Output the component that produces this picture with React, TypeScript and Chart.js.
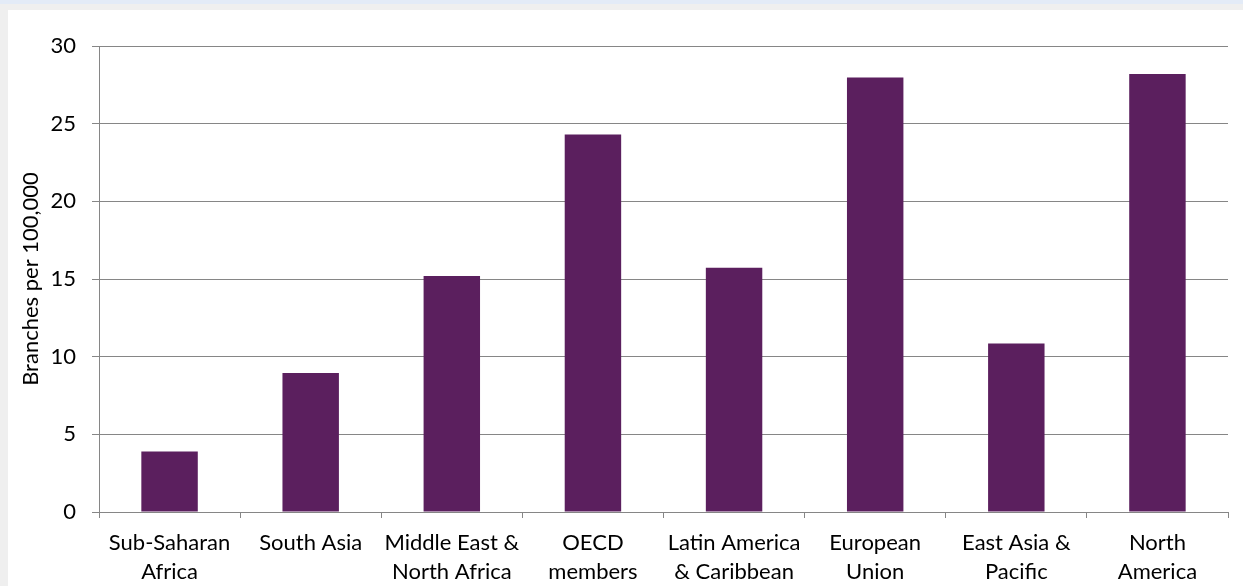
import React, { useEffect, useRef } from "react";
import { Chart, registerables } from "chart.js";

Chart.register(...registerables);

const categories: string[][] = [
  ["Sub-Saharan", "Africa"],
  ["South Asia"],
  ["Middle East &", "North Africa"],
  ["OECD", "members"],
  ["Latin America", "& Caribbean"],
  ["European", "Union"],
  ["East Asia &", "Pacific"],
  ["North", "America"],
];
const branches: number[] = [3.9, 8.95, 15.2, 24.3, 15.73, 27.98, 10.85, 28.2];
const yTitle = "Branches per 100,000";

const FONT = "Lato, 'Noto Sans', sans-serif";
const GRID = "#868686";

export default function App() {
  const ref = useRef<HTMLCanvasElement | null>(null);
  useEffect(() => {
    if (!ref.current) return;
    const chart = new Chart(ref.current, {
      type: "bar",
      data: {
        labels: categories,
        datasets: [
          {
            data: branches,
            backgroundColor: "#5b1f5e",
            categoryPercentage: 1,
            barPercentage: 0.4,
          },
        ],
      },
      options: {
        responsive: false,
        animation: false,
        layout: { padding: { top: 36, right: 15, left: 0, bottom: 0 } },
        plugins: { legend: { display: false }, tooltip: { enabled: false } },
        scales: {
          x: {
            grid: { display: true, drawOnChartArea: false, drawTicks: true, tickLength: 6, color: GRID, offset: true },
            border: { display: true, color: GRID, width: 1 },
            ticks: {
              color: "#000",
              font: { family: FONT, size: 22, lineHeight: 1.3 },
              padding: 11,
              maxRotation: 0,
              autoSkip: false,
            },
            afterFit: (s: any) => {
              s.height = 74;
            },
          },
          y: {
            min: 0,
            max: 30,
            grid: { color: GRID, lineWidth: 1, tickLength: 7 },
            border: { display: true, color: GRID, width: 1 },
            ticks: {
              stepSize: 5,
              color: "#000",
              font: { family: FONT, size: 22 },
              padding: 16,
            },
            title: {
              display: true,
              text: yTitle,
              color: "#000",
              font: { family: FONT, size: 22, lineHeight: 1.2 },
              padding: { top: 10, bottom: 0 },
            },
            afterFit: (s: any) => {
              s.width = 91;
            },
          },
        },
      },
    });
    return () => chart.destroy();
  }, []);

  return (
    <div style={{ position: "absolute", left: 0, top: 0, width: 1243, height: 586, background: "#efefef", overflow: "hidden" }}>
      <div style={{ position: "absolute", left: 0, top: 0, width: 1243, height: 4, background: "#e3ebf7" }} />
      <div style={{ position: "absolute", left: 8, top: 10, width: 1235, height: 576, background: "#fff" }}>
        <canvas ref={ref} width={1235} height={576} style={{ display: "block" }} />
      </div>
    </div>
  );
}
